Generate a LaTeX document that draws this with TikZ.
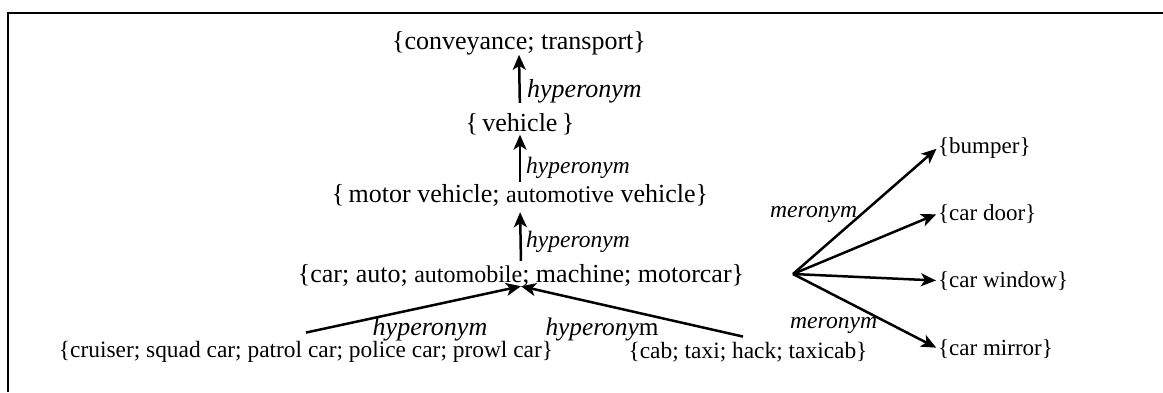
\documentclass[tikz,border=0pt]{standalone}
\usepackage{fontspec}
\setmainfont{Liberation Serif}
\usetikzlibrary{arrows.meta}
\newcommand{\myfs}[1]{\fontsize{#1}{#1}\selectfont}
\begin{document}
\begin{tikzpicture}[x=1pt,y=-1pt,
  lbl/.style={inner sep=0pt, anchor=base},
  lblw/.style={inner sep=0pt, anchor=base west},
  arr/.style={line width=2.5pt, -{Stealth[length=15pt,width=13pt,inset=4pt]}},
  frame/.style={line width=2.2pt}]
\useasboundingbox (0,0) rectangle (1163,392);
\draw[frame] (1163,13) -- (8,13) -- (8,392);
% synsets
\node[lbl] (conv) at (519,49) {\myfs{26}\{conveyance; transport\}};
\node[lbl] (veh) at (520,131) {\myfs{26}\{\,vehicle\,\}};
\node[lbl] (motor) at (520,202) {\myfs{26}\{\,motor vehicle; {\myfs{24}automotive} vehicle\}};
\node[lbl] (car) at (521,282) {\myfs{26}\{car; auto; {\myfs{24}automobile}; machine; motorcar\}};
\node[lbl] (cruiser) at (306,357) {\myfs{23.4}\{cruiser; squad car; patrol car; police car; prowl car\}};
\node[lbl] (cab) at (748,358) {\myfs{23.4}\{cab; taxi; hack; taxicab\}};
\node[lblw] (bumper) at (938,153) {\myfs{23}\{bumper\}};
\node[lblw] (door) at (938,220) {\myfs{23}\{car door\}};
\node[lblw] (window) at (938,287) {\myfs{23}\{car window\}};
\node[lblw] (mirror) at (938,355) {\myfs{23}\{car mirror\}};
\coordinate (hub) at (793,274);
% relation labels
\node[lblw] (h1) at (527,97) {\myfs{26}\textit{hyperonym}};
\node[lblw] (h2) at (526,173) {\myfs{23.5}\textit{hyperonym}};
\node[lblw] (h3) at (526,247) {\myfs{23.5}\textit{hyperonym}};
\node[lbl] (hl) at (430,335) {\myfs{26}\textit{hyperonym}};
\node[lbl] (hr) at (602,335) {\myfs{25.3}\textit{hyperony}m};
\node[lblw] (m1) at (770,217) {\myfs{23.6}\textit{meronym}};
\node[lblw] (m2) at (790,328) {\myfs{23.6}\textit{meronym}};
% connectors
\draw[arr, shorten <=10pt] (veh.north) -- (conv.south);
\draw[arr, shorten <=2pt] (motor.north) -- (veh.south);
\draw[arr, shorten <=3pt, shorten >=6pt] (car.north) -- (motor.south);
\draw[arr] ([yshift=8pt]cruiser.north) -- (car.south);
\draw[arr] ([xshift=-5pt,yshift=5pt]cab.north) -- (car.south);
\draw[arr, shorten >=2pt] (hub) -- (bumper.west);
\draw[arr, shorten >=2pt] (hub) -- (door.west);
\draw[arr, shorten >=2pt] (hub) -- (window.west);
\draw[arr, shorten >=2pt] (hub) -- (mirror.west);
\end{tikzpicture}
\end{document}
